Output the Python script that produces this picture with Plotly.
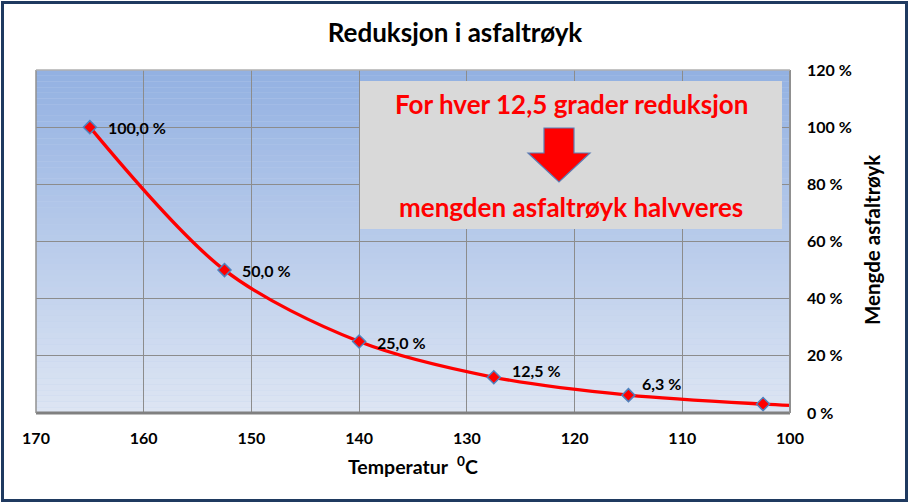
import plotly.graph_objects as go

# ---- data ----
temps = [165, 152.5, 140, 127.5, 115, 102.5]
values = [100, 50, 25, 12.5, 6.25, 3.125]
point_labels = ["100,0 %", "50,0 %", "25,0 %", "12,5 %", "6,3 %", ""]
curve_end_temp = 100
curve_end_value = 2.7
x_ticks = [170, 160, 150, 140, 130, 120, 110, 100]
y_ticks = [0, 20, 40, 60, 80, 100, 120]
y_tick_labels = ["0 %", "20 %", "40 %", "60 %", "80 %", "100 %", "120 %"]

# label offsets (style)
label_xshift = [16, 15, 16, 16, 12, 0]
label_yshift = [0, 0, -1, 7, 12, 0]

W, H = 910, 504
L, R, T, B = 36, 790, 70, 413
PW, PH = R - L, B - T

def px(x):
    return (x - L) / PW

def py(y):
    return (B - y) / PH

FONT = "Lato, Calibri, 'Open Sans', sans-serif"

fig = go.Figure()

# smooth curve
fig.add_trace(go.Scatter(
    x=temps + [curve_end_temp], y=values + [curve_end_value],
    mode="lines", line=dict(color="#FF0000", width=3.3, shape="spline", smoothing=0.9),
    hoverinfo="skip", showlegend=False))

# markers
fig.add_trace(go.Scatter(
    x=temps, y=values, mode="markers",
    marker=dict(symbol="diamond", size=10, color="#FF0000",
                line=dict(color="#4F81BD", width=1.5)),
    showlegend=False))

shapes = []
# gradient background
n = 60
top = (147, 177, 226)
bot = (221, 229, 243)
for i in range(n):
    f = i / (n - 1)
    c = tuple(round(top[k] + (bot[k] - top[k]) * f) for k in range(3))
    shapes.append(dict(type="rect", xref="paper", yref="paper", x0=0, x1=1,
                       y0=1 - (i + 1) / n, y1=1 - i / n, layer="below",
                       line=dict(width=0), fillcolor="rgb(%d,%d,%d)" % c))
# plot frame
shapes.append(dict(type="line", xref="paper", yref="paper", x0=0, x1=1, y0=0, y1=0,
                   line=dict(color="#808080", width=3), layer="above"))
shapes.append(dict(type="line", xref="paper", yref="paper", x0=0, x1=0, y0=0, y1=1,
                   line=dict(color="#909090", width=1.5), layer="above"))
shapes.append(dict(type="line", xref="paper", yref="paper", x0=1, x1=1, y0=0, y1=1,
                   line=dict(color="#909090", width=2), layer="above"))
shapes.append(dict(type="line", xref="paper", yref="paper", x0=0, x1=1, y0=1, y1=1,
                   line=dict(color="#B0B0B0", width=1.5), layer="above"))
# info box
shapes.append(dict(type="rect", xref="paper", yref="paper",
                   x0=px(360), x1=px(782), y0=py(229), y1=py(81),
                   fillcolor="#D9D9D9", line=dict(width=0), layer="above"))
# arrow
pts = [(544, 128), (574, 128), (574, 153), (590, 153), (559, 182), (528, 153), (544, 153)]
path = "M " + " L ".join("%f,%f" % (px(a), py(b)) for a, b in pts) + " Z"
shapes.append(dict(type="path", xref="paper", yref="paper", path=path,
                   fillcolor="#FF0000", line=dict(color="#5B7DB5", width=1.2), layer="above"))
# outer border
shapes.append(dict(type="rect", xref="paper", yref="paper",
                   x0=px(2.5), x1=px(906.5), y0=py(500.5), y1=py(2.5),
                   line=dict(color="#1F3A60", width=3), fillcolor="rgba(0,0,0,0)", layer="above"))

annotations = [
    dict(text="For hver 12,5 grader reduksjon", xref="paper", yref="paper",
         x=px(571), y=py(104), showarrow=False, xanchor="center", yanchor="middle",
         font=dict(family=FONT, size=26, color="#FF0000", weight="bold")),
    dict(text="mengden asfaltrøyk halvveres", xref="paper", yref="paper",
         x=px(571), y=py(207), showarrow=False, xanchor="center", yanchor="middle",
         font=dict(family=FONT, size=26, color="#FF0000", weight="bold")),
    dict(text="Temperatur  <sup>0</sup>C", xref="paper", yref="paper",
         x=px(413), y=py(466), showarrow=False, xanchor="center", yanchor="middle",
         font=dict(family=FONT, size=19.5, color="#000000", weight="bold")),
    dict(text="Mengde asfaltrøyk", xref="paper", yref="paper", textangle=-90,
         x=px(872), y=py(240), showarrow=False, xanchor="center", yanchor="middle",
         font=dict(family=FONT, size=20.5, color="#000000", weight="bold")),
]
for t, v, lab, dx, dy in zip(temps, values, point_labels, label_xshift, label_yshift):
    if lab:
        annotations.append(dict(text=lab, x=t, y=v, xref="x", yref="y", showarrow=False,
                                xanchor="left", yanchor="middle", xshift=dx, yshift=dy,
                                font=dict(family=FONT, size=16, color="#000000", weight="bold")))

fig.update_layout(
    width=W, height=H,
    margin=dict(l=L, r=W - R, t=T, b=H - B),
    paper_bgcolor="#FFFFFF", plot_bgcolor="#C0D0EC",
    title=dict(text="Reduksjon i asfaltrøyk", x=0.5, xanchor="center",
               y=1 - 33 / H, yanchor="middle", xref="container", yref="container",
               font=dict(family=FONT, size=26, color="#000000", weight="bold")),
    shapes=shapes, annotations=annotations, showlegend=False,
)
fig.update_xaxes(range=[170, 100], tickvals=x_ticks, showgrid=True,
                 gridcolor="#8C8C8C", gridwidth=1, zeroline=False, showline=False,
                 ticks="", ticklabelstandoff=14,
                 tickfont=dict(family=FONT, size=16, color="#000000", weight="bold"))
fig.update_yaxes(range=[0, 120], tickvals=y_ticks, ticktext=y_tick_labels, side="right",
                 showgrid=True, gridcolor="#8C8C8C", gridwidth=1, zeroline=False,
                 showline=False, ticks="", ticklabelstandoff=16,
                 tickfont=dict(family=FONT, size=16, color="#000000", weight="bold"))

fig.write_html("out.html", config={"displayModeBar": False},
               post_script="document.body.style.margin='0';")
